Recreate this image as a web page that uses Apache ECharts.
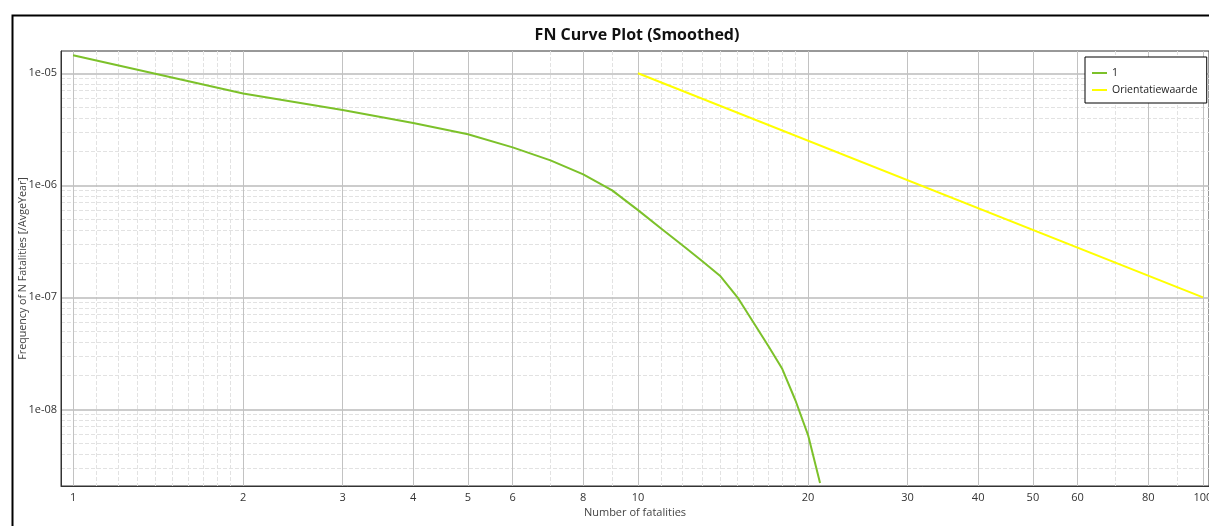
<!DOCTYPE html>
<html>
<head>
<meta charset="utf-8">
<style>
  html, body { margin: 0; padding: 0; background: #fff; }
  #chart { width: 1209px; height: 526px; }
</style>
<script src="https://cdn.jsdelivr.net/npm/echarts@6/dist/echarts.min.js"></script>
</head>
<body>
<div id="chart"></div>
<script>
// ---- data ----
const seriesNames = ['1', 'Orientatiewaarde'];
const fnN    = [1, 2, 3, 4, 5, 6, 7, 8, 9, 10, 11, 12, 13, 14, 15, 16, 17, 18, 19, 20, 21];
const fnFreq = [1.45e-5, 6.6e-6, 4.7e-6, 3.6e-6, 2.85e-6, 2.18e-6, 1.67e-6, 1.25e-6, 9.0e-7,
                6.0e-7, 4.1e-7, 2.9e-7, 2.1e-7, 1.54e-7, 1.0e-7, 6.0e-8, 3.7e-8, 2.3e-8,
                1.2e-8, 5.9e-9, 2.2e-9];
const orientN    = [10, 100];
const orientFreq = [1e-5, 1e-7];

// ---- axis ticks ----
const xTickLabels = [1, 2, 3, 4, 5, 6, 8, 10, 20, 30, 40, 50, 60, 80, 100];
const xMinorTicks = [1.1, 1.2, 1.3, 1.4, 1.5, 1.6, 1.7, 1.8, 1.9, 7, 9,
                     11, 12, 13, 14, 15, 16, 17, 18, 19, 70, 90];
const yTickLabels = [1e-8, 1e-7, 1e-6, 1e-5];
const yMinorMult  = [2, 3, 4, 5, 6, 7, 8, 9];
const xRange = [0.952, 102.5];
const yRange = [2.07e-9, 1.58e-5];

const lg = Math.log10;
const yMinorTicks = [];
[-9, -8, -7, -6, -5].forEach(e => yMinorMult.forEach(m => {
  const v = m * Math.pow(10, e);
  if (v > yRange[0] && v < yRange[1]) yMinorTicks.push(v);
}));

const FONT = '"Open Sans", "Noto Sans", sans-serif';
const xMin = lg(xRange[0]), xMax = lg(xRange[1]);
const yMin = lg(yRange[0]), yMax = lg(yRange[1]);

function xFmt(v) { return String(Math.round(Math.pow(10, v))); }
function yFmt(v) { const e = -Math.round(v); return '1e-' + (e < 10 ? '0' + e : e); }

const chart = echarts.init(document.getElementById('chart'), null, { renderer: 'canvas' });
chart.setOption({
  animation: false,
  backgroundColor: '#fff',
  title: {
    text: 'FN Curve Plot (Smoothed)',
    left: 632, top: 22, textAlign: 'center',
    textStyle: { fontFamily: FONT, fontSize: 16, fontWeight: 'bold', color: '#111' }
  },
  graphic: [{
    type: 'rect', left: 10, top: 13, silent: true,
    shape: { width: 1210, height: 530 },
    style: { fill: 'none', stroke: '#000', lineWidth: 2 }
  }],
  legend: {
    orient: 'vertical',
    left: 1085, top: 57,
    padding: [9, 9, 6, 7],
    icon: 'rect',
    itemWidth: 15, itemHeight: 2, itemGap: 3,
    backgroundColor: '#fff',
    borderColor: '#000', borderWidth: 1, borderRadius: 0,
    textStyle: { fontFamily: FONT, fontSize: 10.5, lineHeight: 14, color: '#222' },
    data: seriesNames
  },
  grid: {
    left: 61, top: 51, right: 0, bottom: 40,
    outerBoundsMode: 'none', containLabel: false,
    show: true, borderColor: '#333', borderWidth: 1, backgroundColor: 'transparent'
  },
  xAxis: [{
    type: 'value', min: xMin, max: xMax,
    name: 'Number of fatalities', nameLocation: 'middle', nameGap: 21, nameMoveOverlap: false,
    nameTextStyle: { fontFamily: FONT, fontSize: 11, color: '#444' },
    axisLine: { show: true, onZero: false, lineStyle: { color: '#333', width: 1 } },
    axisTick: { show: false, customValues: xTickLabels.map(lg) },
    axisLabel: { customValues: xTickLabels.map(lg), formatter: xFmt, margin: 6,
                 fontFamily: FONT, fontSize: 11, color: '#333', hideOverlap: false },
    splitLine: { show: true, lineStyle: { color: '#c2c2c2', width: 1 } },
    z: 3
  }, {
    type: 'value', min: xMin, max: xMax, gridIndex: 0,
    axisLine: { show: false, onZero: false },
    axisTick: { show: false, customValues: xMinorTicks.map(lg) },
    axisLabel: { show: false },
    splitLine: { show: true, lineStyle: { color: '#e2e2e2', width: 1, type: [4, 2] } },
    z: 1
  }],
  yAxis: [{
    type: 'value', min: yMin, max: yMax,
    name: 'Frequency of N Fatalities [/AvgeYear]', nameLocation: 'middle', nameGap: 33,
    nameMoveOverlap: false,
    nameTextStyle: { fontFamily: FONT, fontSize: 10.7, color: '#444' },
    axisLine: { show: true, onZero: false, lineStyle: { color: '#333', width: 1 } },
    axisTick: { show: false, customValues: yTickLabels.map(lg) },
    axisLabel: { customValues: yTickLabels.map(lg), formatter: yFmt, margin: 4,
                 fontFamily: FONT, fontSize: 11, color: '#333', hideOverlap: false },
    splitLine: { show: true, lineStyle: { color: '#bbbbbb', width: 1.5 } },
    z: 3
  }, {
    type: 'value', min: yMin, max: yMax, gridIndex: 0,
    axisLine: { show: false, onZero: false },
    axisTick: { show: false, customValues: yMinorTicks.map(lg) },
    axisLabel: { show: false },
    splitLine: { show: true, lineStyle: { color: '#e2e2e2', width: 1, type: [4, 2] } },
    z: 1
  }],
  series: [{
    name: seriesNames[0], type: 'line', xAxisIndex: 0, yAxisIndex: 0,
    symbol: 'none', smooth: false,
    lineStyle: { color: '#7cc12a', width: 2 }, itemStyle: { color: '#7cc12a' },
    data: fnN.map((n, i) => [lg(n), lg(fnFreq[i])]),
    z: 5
  }, {
    name: seriesNames[1], type: 'line', xAxisIndex: 0, yAxisIndex: 0,
    symbol: 'none',
    lineStyle: { color: '#ffff00', width: 2 }, itemStyle: { color: '#ffff00' },
    data: orientN.map((n, i) => [lg(n), lg(orientFreq[i])]),
    z: 5
  }]
});
</script>
</body>
</html>
